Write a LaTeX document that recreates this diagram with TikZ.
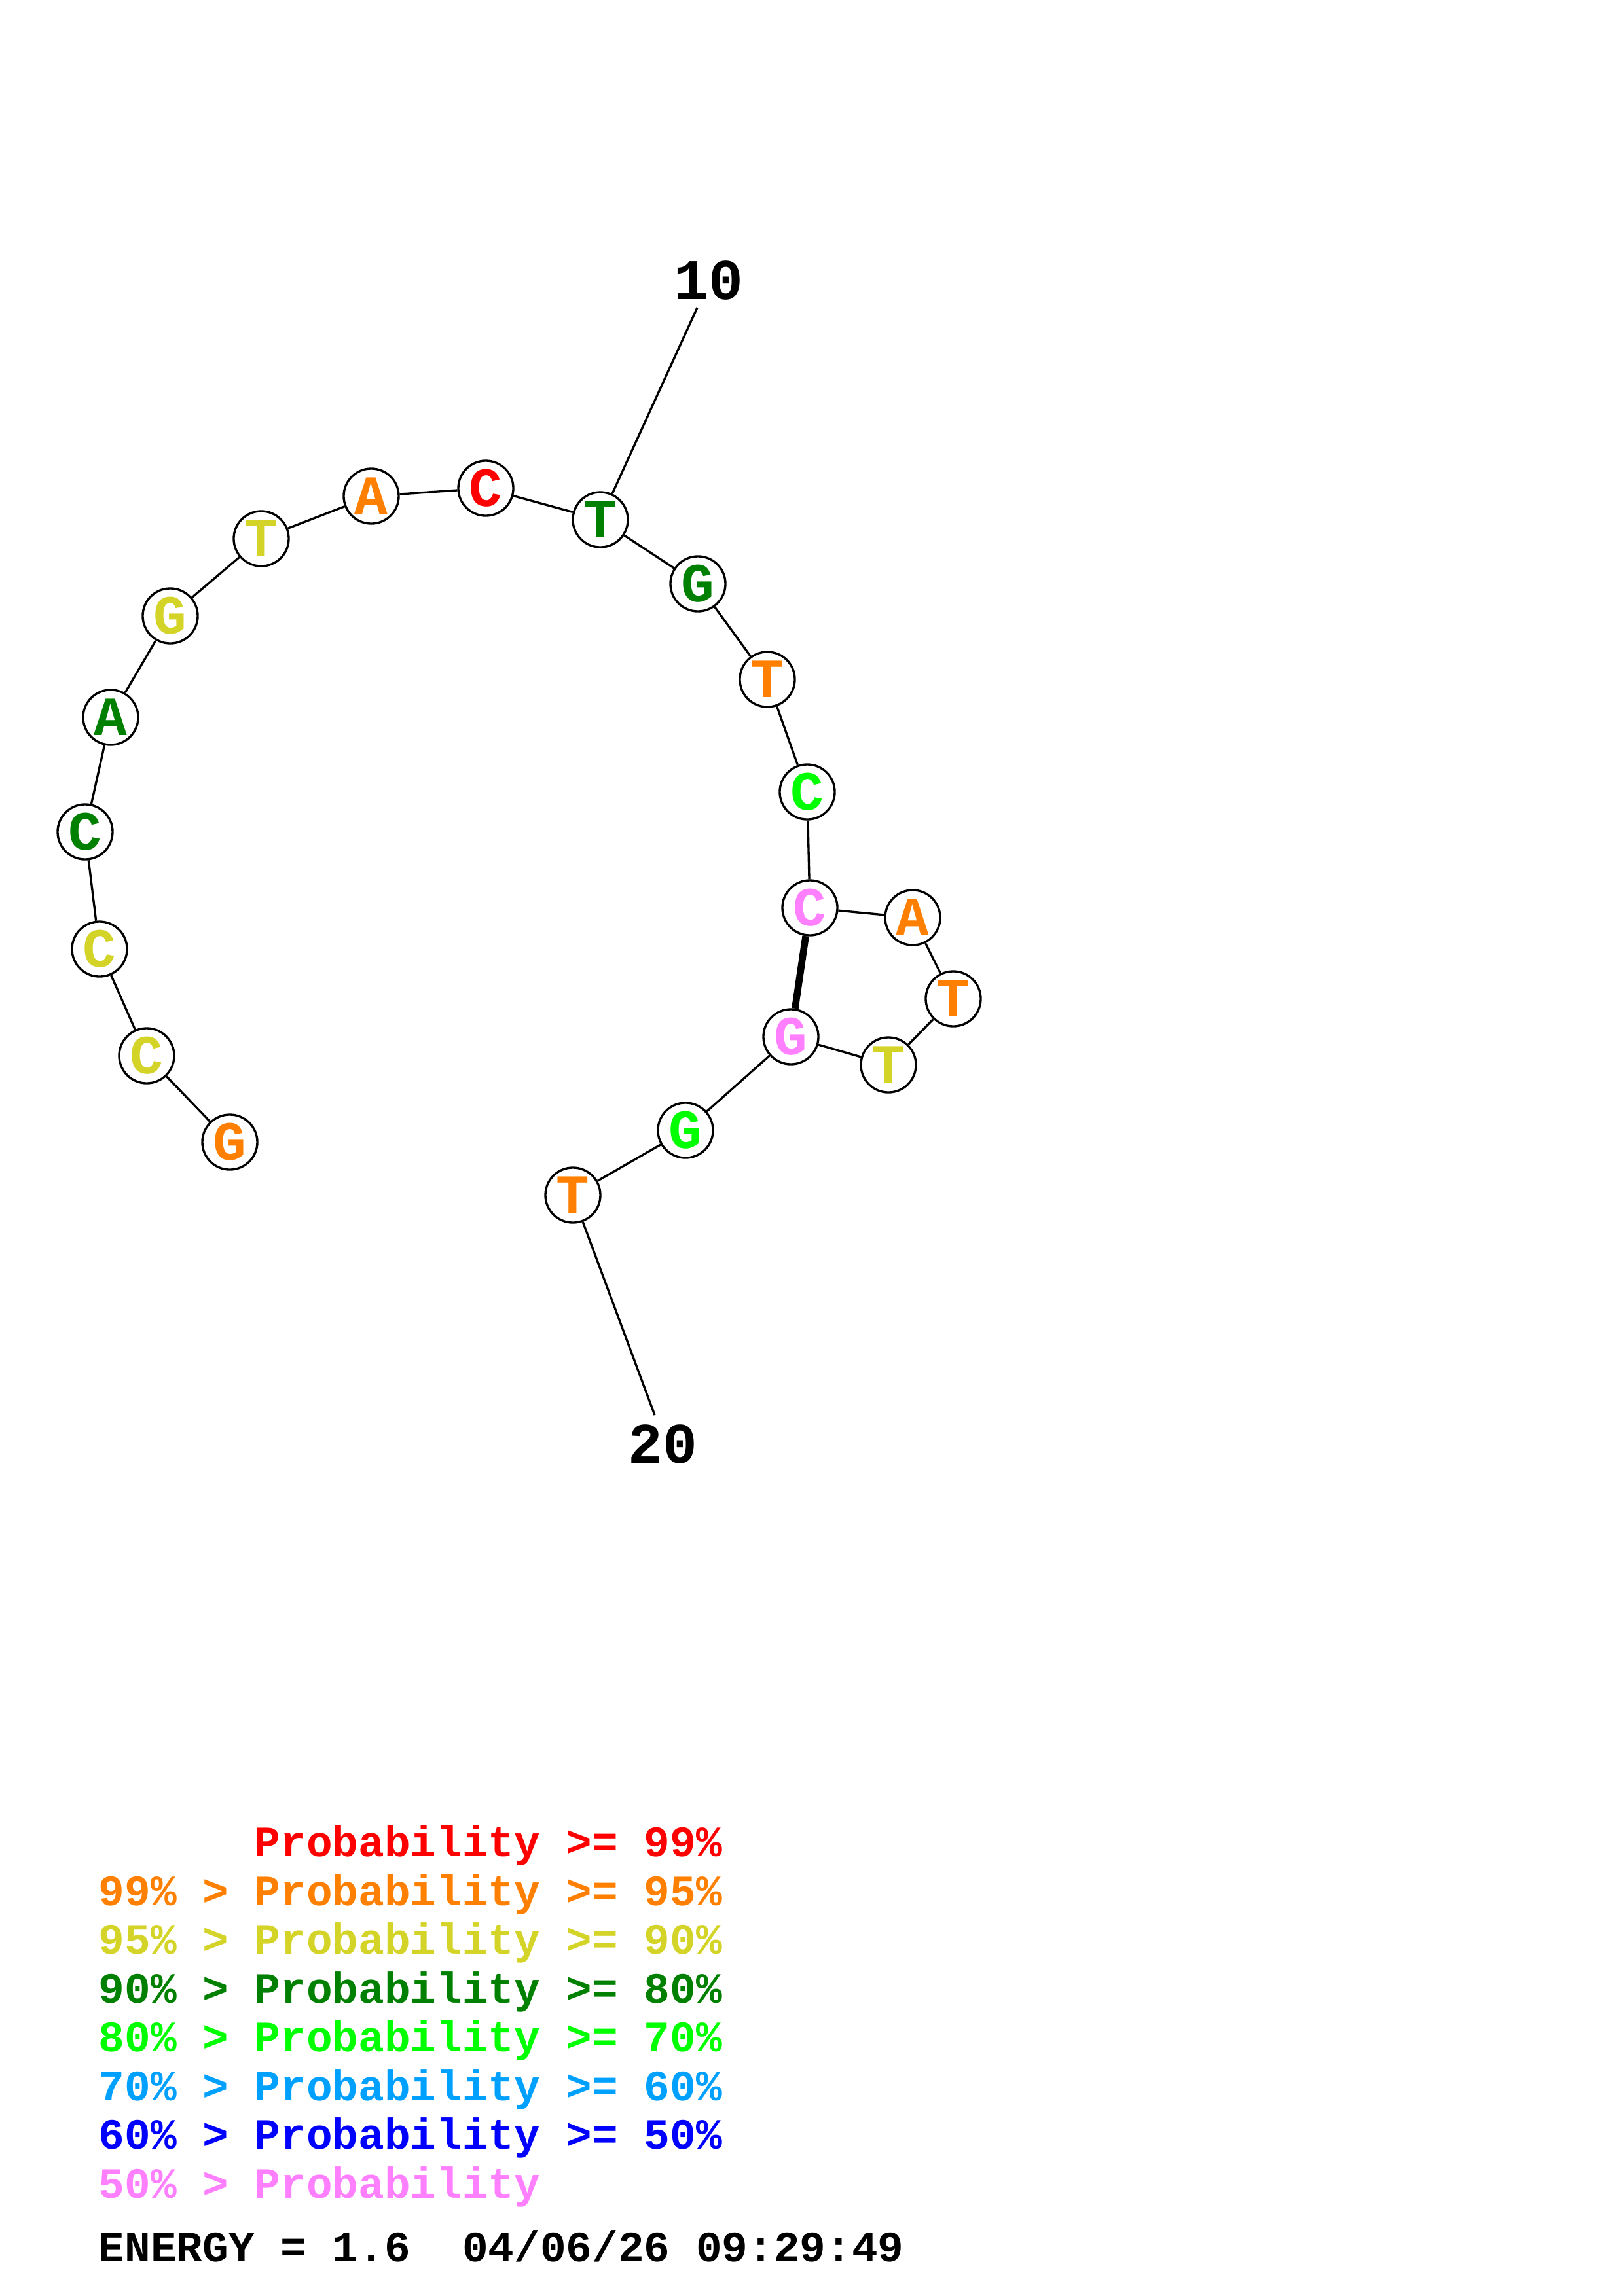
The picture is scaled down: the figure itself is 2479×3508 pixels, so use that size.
\documentclass[tikz,border=0pt]{standalone}
\usepackage{fontspec}
\setmonofont{Liberation Mono}
\newfontfamily\cour[BoldFont={Liberation Mono Bold}]{Liberation Mono}
\definecolor{cRed}{RGB}{255,0,0}
\definecolor{cOrange}{RGB}{255,128,0}
\definecolor{cYellow}{RGB}{212,212,40}
\definecolor{cDkGreen}{RGB}{0,128,0}
\definecolor{cGreen}{RGB}{0,255,0}
\definecolor{cSky}{RGB}{0,160,255}
\definecolor{cBlue}{RGB}{0,0,255}
\definecolor{cPink}{RGB}{255,128,255}
\tikzset{
  base/.style={circle,draw=black,line width=0.95pt,fill=white,minimum size=0.84cm,inner sep=0pt,
    font=\cour\bfseries\fontsize{24pt}{24pt}\selectfont},
  bond/.style={line width=0.95pt},
  pairbond/.style={line width=3pt},
  numlabel/.style={anchor=base,inner sep=0pt,font=\cour\bfseries\fontsize{25pt}{25pt}\selectfont},
  legend/.style={anchor=base west,inner sep=0pt,font=\cour\bfseries\fontsize{18.8pt}{18.8pt}\selectfont}
}
\begin{document}
\begin{tikzpicture}[x=0.01cm,y=-0.01cm]
\useasboundingbox (0,0) rectangle (2479,3508);
\node[base,text=cOrange]  (n1)  at (351,1745) {G};
\node[base,text=cYellow]  (n2)  at (224,1613) {C};
\node[base,text=cYellow]  (n3)  at (152,1450) {C};
\node[base,text=cDkGreen] (n4)  at (130,1271) {C};
\node[base,text=cDkGreen] (n5)  at (169,1096) {A};
\node[base,text=cYellow]  (n6)  at (260,941) {G};
\node[base,text=cYellow]  (n7)  at (399,823) {T};
\node[base,text=cOrange]  (n8)  at (567,758) {A};
\node[base,text=cRed]     (n9)  at (742,746) {C};
\node[base,text=cDkGreen] (n10) at (917,794) {T};
\node[base,text=cDkGreen] (n11) at (1066,892) {G};
\node[base,text=cOrange]  (n12) at (1172,1038) {T};
\node[base,text=cGreen]   (n13) at (1233,1210) {C};
\node[base,text=cPink]    (n14) at (1237,1387) {C};
\node[base,text=cOrange]  (n15) at (1394,1402) {A};
\node[base,text=cOrange]  (n16) at (1456,1526) {T};
\node[base,text=cYellow]  (n17) at (1357,1627) {T};
\node[base,text=cPink]    (n18) at (1208,1584) {G};
\node[base,text=cGreen]   (n19) at (1047,1727) {G};
\node[base,text=cOrange]  (n20) at (875,1826) {T};
\coordinate (e10) at (1065,470);
\coordinate (e20) at (1000,2162);
\foreach \a/\b in {n1/n2,n2/n3,n3/n4,n4/n5,n5/n6,n6/n7,n7/n8,n8/n9,n9/n10,n10/n11,n11/n12,n12/n13,n13/n14,n14/n15,n15/n16,n16/n17,n17/n18,n18/n19,n19/n20}
  \draw[bond] (\a) -- (\b);
\draw[pairbond] (n14) -- (n18);
\draw[bond] (n10) -- (e10);
\draw[bond] (n20) -- (e20);
\node[numlabel] (l10) at (1082,457) {10};
\node[numlabel] (l20) at (1012,2235) {20};
\node[legend,text=cRed]     (g1) at (388,2836) {Probability >= 99\%};
\node[legend,text=cOrange]  (g2) at (150,2911) {99\% > Probability >= 95\%};
\node[legend,text=cYellow]  (g3) at (150,2985) {95\% > Probability >= 90\%};
\node[legend,text=cDkGreen] (g4) at (150,3060) {90\% > Probability >= 80\%};
\node[legend,text=cGreen]   (g5) at (150,3134) {80\% > Probability >= 70\%};
\node[legend,text=cSky]     (g6) at (150,3209) {70\% > Probability >= 60\%};
\node[legend,text=cBlue]    (g7) at (150,3283) {60\% > Probability >= 50\%};
\node[legend,text=cPink]    (g8) at (150,3358) {50\% > Probability};
\node[legend,text=black]    (g9) at (150,3455) {ENERGY = 1.6\ \ 04/06/26 09:29:49};
\end{tikzpicture}
\end{document}
